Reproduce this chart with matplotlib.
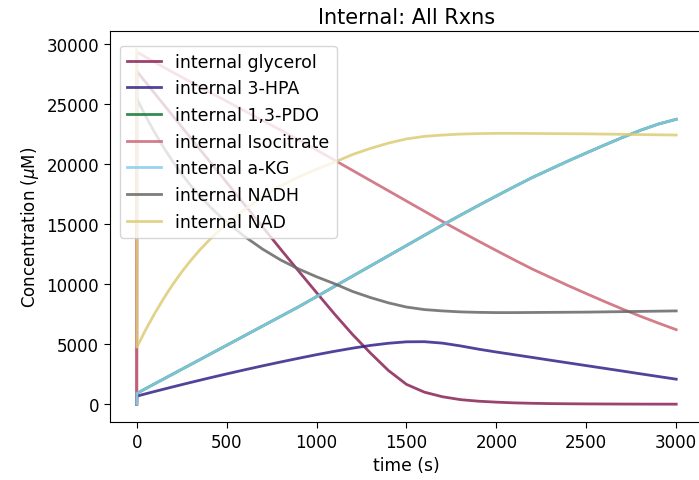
import matplotlib
matplotlib.use("Agg")
import matplotlib.pyplot as plt

time_s = [0, 1, 50, 100, 150, 200, 250, 300, 350, 400, 450, 500, 600, 700, 800, 900, 1000,
          1100, 1200, 1300, 1400, 1500, 1600, 1700, 1800, 1900, 2000, 2100, 2200, 2300,
          2400, 2500, 2600, 2700, 2800, 2900, 3000]

glycerol = [0, 27700, 26775, 25850, 24925, 24000, 23075, 22150, 21225, 20300, 19375, 18450,
            16600, 14750, 12900, 11080, 9280, 7500, 5800, 4250, 2800, 1650, 1000, 620, 380,
            250, 170, 110, 75, 50, 35, 25, 18, 12, 8, 5, 3]
hpa = [0, 670, 865, 1060, 1250, 1440, 1625, 1810, 1990, 2170, 2345, 2520, 2860, 3190, 3510,
       3820, 4120, 4400, 4660, 4890, 5070, 5190, 5200, 5080, 4850, 4580, 4340, 4115, 3890,
       3660, 3435, 3210, 2985, 2760, 2530, 2305, 2080]
isocitrate = [0, 29300, 28870, 28450, 28035, 27620, 27210, 26800, 26400, 26000, 25600,
              25200, 24400, 23600, 22800, 22000, 21150, 20300, 19450, 18600, 17750, 16900,
              16050, 15200, 14380, 13570, 12780, 12000, 11240, 10550, 9860, 9200, 8550,
              7920, 7320, 6750, 6200]
a_kg = [0, 900, 1300, 1700, 2100, 2500, 2900, 3300, 3700, 4100, 4500, 4900, 5700, 6500,
        7300, 8100, 8950, 9800, 10650, 11500, 12350, 13200, 14050, 14900, 15720, 16530,
        17320, 18100, 18860, 19550, 20240, 20900, 21550, 22180, 22780, 23300, 23700]
pdo = list(a_kg)
nadh = [25400, 25400, 23950, 22600, 21350, 20200, 19150, 18200, 17330, 16550, 15820, 15150,
        13950, 12900, 12000, 11250, 10600, 10020, 9380, 8870, 8430, 8080, 7870, 7760, 7680,
        7640, 7620, 7620, 7630, 7640, 7650, 7660, 7680, 7700, 7720, 7740, 7760]
nad = [29500, 4750, 6200, 7550, 8800, 9950, 11000, 11950, 12820, 13600, 14330, 15000,
       16200, 17250, 18150, 18900, 19550, 20130, 20770, 21280, 21720, 22070, 22280, 22390,
       22470, 22510, 22530, 22530, 22520, 22510, 22500, 22490, 22470, 22450, 22430, 22410,
       22390]

series = [
    ("internal glycerol", glycerol, "#882255"),
    ("internal 3-HPA", hpa, "#332288"),
    ("internal 1,3-PDO", pdo, "#117733"),
    ("internal Isocitrate", isocitrate, "#CC6677"),
    ("internal a-KG", a_kg, "#88CCEE"),
    ("internal NADH", nadh, "#666666"),
    ("internal NAD", nad, "#DDCC77"),
]

plt.rcParams["font.family"] = ["DejaVu Sans"]
plt.rcParams["font.size"] = 12
plt.rcParams["xtick.major.size"] = 4.3
plt.rcParams["ytick.major.size"] = 4.3

fig = plt.figure(figsize=(6.99, 4.81), dpi=100)
ax = fig.add_axes([0.157, 0.1206, 0.849, 0.813])
for label, vals, color in series:
    ax.plot(time_s, vals, color=color, lw=2, alpha=0.85, label=label)

ax.set_xlim(-150, 3150)
ax.set_ylim(-1480, 31050)
ax.set_xticks([0, 500, 1000, 1500, 2000, 2500, 3000])
ax.set_yticks([0, 5000, 10000, 15000, 20000, 25000, 30000])
ax.set_xlabel("time (s)", fontsize=12.3)
ax.set_ylabel(r"Concentration ($\mu$M)", fontsize=12)
ax.set_title("Internal: All Rxns", fontsize=15)
ax.legend(loc="upper left", bbox_to_anchor=(0.017, 0.962), borderaxespad=0,
          fontsize=12.5)

fig.savefig("out.png", dpi=100)
